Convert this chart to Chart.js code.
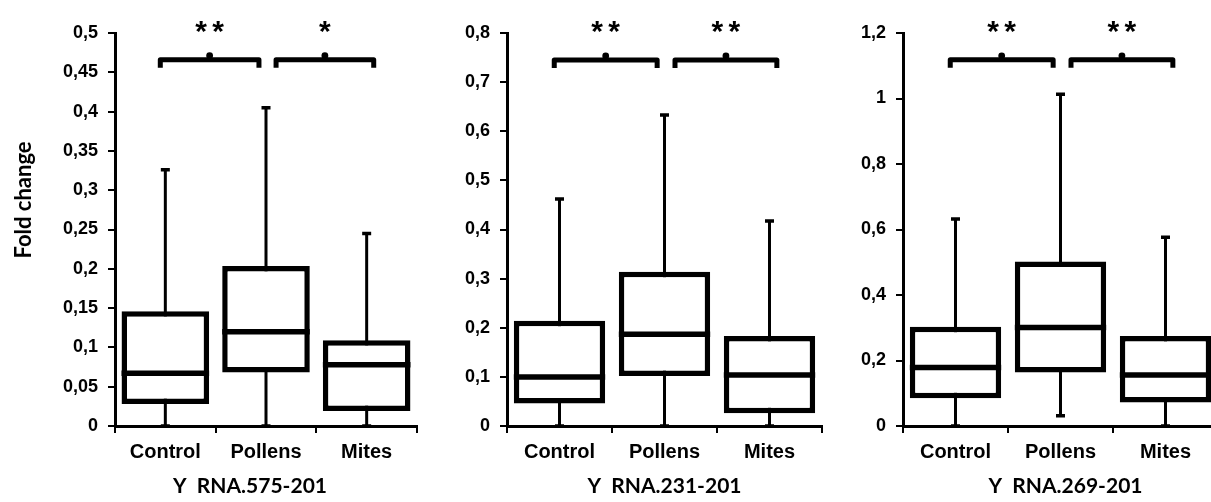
<!DOCTYPE html>
<html>
<head>
<meta charset="utf-8">
<script src="https://cdn.jsdelivr.net/npm/chart.js@4.4.0/dist/chart.umd.min.js"></script>
<style>
  html, body { margin: 0; padding: 0; background: #fff; overflow: hidden; }
  body { width: 1211px; height: 502px; position: relative; }
  canvas { position: absolute; top: 0; }
</style>
</head>
<body>
<canvas id="c1" width="430" height="502" style="left:0px"></canvas>
<canvas id="c2" width="400" height="502" style="left:430px"></canvas>
<canvas id="c3" width="400" height="502" style="left:830px"></canvas>
<script>
// categories and panel labels
const groups = ['Control', 'Pollens', 'Mites'];
const panelTitles = ['Y  RNA.575-201', 'Y  RNA.231-201', 'Y  RNA.269-201'];
const axisMax = [0.5, 0.8, 1.2];
const axisStep = [0.05, 0.1, 0.2];

// box plot values per panel (whisker min, Q1, median, Q3, whisker max)
const minVals = [[0, 0, 0], [0, 0, 0], [0, 0.031, 0]];
const q1Vals = [[0.028, 0.068, 0.019], [0.046, 0.102, 0.026], [0.0845, 0.163, 0.072]];
const medVals = [[0.067, 0.12, 0.078], [0.100, 0.187, 0.104], [0.179, 0.301, 0.156]];
const q3Vals = [[0.146, 0.2035, 0.109], [0.2145, 0.314, 0.183], [0.303, 0.502, 0.275]];
const maxVals = [[0.326, 0.405, 0.245], [0.462, 0.633, 0.4175], [0.632, 1.013, 0.576]];

// significance marks (Control vs Pollens, Pollens vs Mites)
const stars = [['**', '*'], ['**', '**'], ['**', '**']];
const bracketLevel = [0.466, 0.745, 1.118];

const tickFont = { family: 'Liberation Sans, Arial', size: 18, weight: 'bold' };
const catFont = { family: 'Liberation Sans, Arial', size: 20, weight: 'bold' };

// panel layout: y axis width, right padding, title shift
const panels = [
  { id: 'c1', yWidth: 115, padRight: 13, titleShift: -16, yTitle: 'Fold change' },
  { id: 'c2', yWidth: 77, padRight: 8, titleShift: 0, yTitle: '' },
  { id: 'c3', yWidth: 73, padRight: 12, titleShift: 5, yTitle: '' }
];

const boxExtras = {
  id: 'boxExtras',
  beforeDatasetsDraw(chart, args, o) {
    const ctx = chart.ctx, y = chart.scales.y;
    const bars = chart.getDatasetMeta(0).data;
    ctx.save();
    ctx.strokeStyle = '#000';
    bars.forEach((b, i) => {
      const top = y.getPixelForValue(o.max[i]);
      const bot = y.getPixelForValue(o.min[i]);
      ctx.lineWidth = 3;
      ctx.beginPath();
      ctx.moveTo(b.x, top); ctx.lineTo(b.x, bot);
      ctx.stroke();
      ctx.lineWidth = 3.5;
      ctx.beginPath();
      ctx.moveTo(b.x - 4.5, top); ctx.lineTo(b.x + 4.5, top);
      ctx.moveTo(b.x - 4.5, bot); ctx.lineTo(b.x + 4.5, bot);
      ctx.stroke();
    });
    ctx.restore();
  },
  afterDatasetsDraw(chart, args, o) {
    const ctx = chart.ctx, y = chart.scales.y;
    const bars = chart.getDatasetMeta(0).data;
    ctx.save();
    ctx.strokeStyle = '#000';
    ctx.fillStyle = '#000';
    // medians
    ctx.lineWidth = 5.5;
    bars.forEach((b, i) => {
      const m = y.getPixelForValue(o.med[i]);
      ctx.beginPath();
      ctx.moveTo(b.x - b.width / 2, m); ctx.lineTo(b.x + b.width / 2, m);
      ctx.stroke();
    });
    // brackets
    const step = bars[1].x - bars[0].x;
    const by = y.getPixelForValue(o.level);
    const spans = [[-0.05, 0.93], [1.1, 2.07]];
    spans.forEach((s, k) => {
      const x1 = bars[0].x + s[0] * step, x2 = bars[0].x + s[1] * step;
      const xm = (x1 + x2) / 2;
      ctx.lineWidth = 5;
      ctx.lineJoin = 'round';
      ctx.beginPath();
      ctx.moveTo(x1, by + 8); ctx.lineTo(x1, by); ctx.lineTo(x2, by); ctx.lineTo(x2, by + 8);
      ctx.stroke();
      ctx.beginPath();
      ctx.arc(xm, by - 4, 3.4, 0, Math.PI * 2);
      ctx.fill();
      // stars
      ctx.font = 'bold 30px Liberation Sans, Arial';
      ctx.textAlign = 'center';
      ctx.textBaseline = 'alphabetic';
      const txt = o.stars[k];
      for (let c = 0; c < txt.length; c++) {
        ctx.fillText(txt[c], xm + (c - (txt.length - 1) / 2) * 17, by - 19);
      }
    });
    ctx.restore();
  },
  afterDraw(chart, args, o) {
    const ctx = chart.ctx, x = chart.scales.x;
    ctx.save();
    ctx.fillStyle = '#000';
    ctx.textAlign = 'center';
    ctx.textBaseline = 'middle';
    ctx.font = 'bold 21px Lato';
    ctx.fillText(o.title, (x.left + x.right) / 2 + o.titleShift, 486);
    if (o.yTitle) {
      ctx.translate(24, 200);
      ctx.rotate(-Math.PI / 2);
      ctx.font = 'bold 22px Lato';
      ctx.fillText(o.yTitle, 0, 0);
    }
    ctx.restore();
  }
};

function fmt(v) {
  return parseFloat(v.toFixed(2)).toString().replace('.', ',');
}

panels.forEach((p, n) => {
  const ctx = document.getElementById(p.id).getContext('2d');
  new Chart(ctx, {
    type: 'bar',
    data: {
      labels: groups,
      datasets: [{
        data: groups.map((g, i) => [q1Vals[n][i], q3Vals[n][i]]),
        backgroundColor: '#fff',
        borderColor: '#000',
        borderWidth: 5.5,
        borderSkipped: false,
        barPercentage: 0.87,
        categoryPercentage: 1
      }]
    },
    options: {
      responsive: false,
      animation: false,
      layout: { padding: { top: 33, right: p.padRight, bottom: 0, left: 0 } },
      plugins: {
        legend: { display: false },
        tooltip: { enabled: false },
        boxExtras: {
          min: minVals[n], med: medVals[n], max: maxVals[n],
          stars: stars[n], level: bracketLevel[n],
          title: panelTitles[n], titleShift: p.titleShift, yTitle: p.yTitle
        }
      },
      scales: {
        x: {
          afterFit: s => { s.height = 76; },
          border: { display: true, color: '#000', width: 3 },
          grid: { display: true, drawOnChartArea: false, drawTicks: true, tickLength: 7, color: '#000', lineWidth: 2 },
          ticks: { color: '#000', font: catFont, padding: 7 }
        },
        y: {
          min: 0,
          max: axisMax[n],
          afterFit: s => { s.width = p.yWidth; },
          border: { display: true, color: '#000', width: 3 },
          grid: { display: true, drawOnChartArea: false, drawTicks: true, tickLength: 7, color: '#000', lineWidth: 2 },
          ticks: { stepSize: axisStep[n], color: '#000', font: tickFont, padding: 10, callback: v => fmt(v) }
        }
      }
    },
    plugins: [boxExtras]
  });
});
</script>
</body>
</html>
